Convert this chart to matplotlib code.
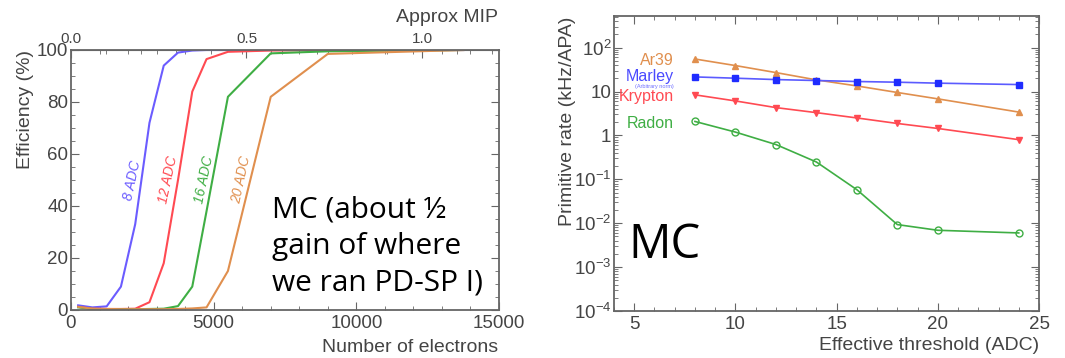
import numpy as np
import matplotlib.pyplot as plt
from matplotlib.ticker import FixedLocator, NullFormatter

plt.rcParams['font.family'] = ['Liberation Sans', 'DejaVu Sans']
plt.rcParams['mathtext.default'] = 'regular'

# Efficiency vs number of electrons, one curve per threshold
electrons = [250, 750, 1250, 1750, 2250, 2750, 3250, 3750, 4250, 4750, 5500, 7000, 9000, 13750]
eff_8 = [1.8, 1.0, 1.4, 9, 33, 72, 94, 99, 99.8, 100, 100, 100, 100, 100]
eff_12 = [1.2, 0.5, 0.4, 0.4, 0.5, 3, 18, 50, 84, 96.5, 99.3, 99.8, 100, 100]
eff_16 = [1.0, 0.4, 0.3, 0.3, 0.3, 0.4, 0.5, 1.5, 9, 38, 82, 98.7, 99.5, 100]
eff_20 = [1.2, 0.5, 0.4, 0.3, 0.3, 0.3, 0.3, 0.4, 0.6, 1.0, 15, 82, 98.5, 100]
eff_labels = ['8 ADC', '12 ADC', '16 ADC', '20 ADC']
electrons_per_mip = 12300

# Primitive rates vs threshold
threshold = [8, 10, 12, 14, 16, 18, 20, 24]
rate_ar39 = [55, 39, 27, 18.4, 13.4, 9.5, 6.8, 3.4]
rate_marley = [21.5, 20.1, 18.7, 17.8, 16.9, 16.3, 15.5, 14.4]
rate_krypton = [8.4, 6.1, 4.3, 3.3, 2.5, 1.87, 1.44, 0.80]
rate_radon = [2.08, 1.19, 0.62, 0.248, 0.058, 0.0093, 0.0069, 0.0060]

c_blue = '#6b5cff'
c_red = '#ff4a52'
c_green = '#3fae44'
c_orange = '#e08f4e'
frame = '#666666'
tickc = '#444444'

W, H = 1065, 358
fig = plt.figure(figsize=(W / 100, H / 100), dpi=100)

def style(ax):
    for s in ax.spines.values():
        s.set_color(frame)
        s.set_linewidth(1.3)
    ax.tick_params(which='both', direction='in', colors=frame, labelcolor=tickc,
                   labelsize=13.5, top=True, right=True)
    ax.tick_params(which='major', length=6)
    ax.tick_params(which='minor', length=3)

# ---- left: efficiency
ax1 = fig.add_axes([71/W, 1-310/H, 428/W, 260/H])
curves = [eff_8, eff_12, eff_16, eff_20]
cols = [c_blue, c_red, c_green, c_orange]
for y, c in zip(curves, cols):
    ax1.plot(electrons, y, color=c, lw=1.5)
ax1.set_xlim(0, 15000)
ax1.set_ylim(0, 100)
style(ax1)
ax1.tick_params(top=False)
ax1.set_xticks([0, 5000, 10000, 15000])
ax1.set_yticks([0, 20, 40, 60, 80, 100])
ax1.xaxis.set_minor_locator(FixedLocator(np.arange(0, 15001, 1000)))
ax1.yaxis.set_minor_locator(FixedLocator(np.arange(0, 101, 5)))
ax1.tick_params(axis='y', pad=2)
fig.text(25/W, 1-50/H, 'Efficiency (%)', rotation=90, fontsize=14, color=tickc,
         ha='center', va='top')
fig.text(498/W, 1-347/H, 'Number of electrons', fontsize=14, color=tickc,
         ha='right', va='center')

for lab, xpos, c in zip(eff_labels, [2140, 3400, 4660, 5950], cols):
    ax1.text(xpos, 50, lab, color=c, rotation=78, fontsize=10, style='italic',
             ha='center', va='center')

ax1.text(7050, 24.5, 'MC (about \u00bd\ngain of where\nwe ran PD-SP I)', fontsize=21.5,
         family=['Open Sans', 'DejaVu Sans'], va='center', ha='left', linespacing=1.33)

top = ax1.secondary_xaxis('top', functions=(lambda x: x / electrons_per_mip,
                                            lambda m: m * electrons_per_mip))
top.set_xticks([0.0, 0.5, 1.0])
top.set_xticklabels(['0.0', '0.5', '1.0'])
top.xaxis.set_minor_locator(FixedLocator(np.arange(0, 1.25, 0.1)))
top.tick_params(which='both', direction='in', colors=frame, labelcolor=tickc, labelsize=11, pad=3)
top.tick_params(which='major', length=6)
top.tick_params(which='minor', length=3)
top.spines['top'].set_color(frame)
fig.text(498/W, 1-17/H, 'Approx MIP', fontsize=14, color=tickc, ha='right', va='center')

# ---- right: primitive rates
ax2 = fig.add_axes([614/W, 1-311/H, 425/W, 295/H])
ax2.set_yscale('log')
ax2.plot(threshold, rate_ar39, color=c_orange, lw=1.2, marker='^', ms=4.5, mec=c_orange)
ax2.plot(threshold, rate_marley, color='#5b5bff', lw=1.2, marker='s', ms=5,
         mfc='#1f2cff', mec='#1f2cff')
ax2.plot(threshold, rate_krypton, color=c_red, lw=1.2, marker='v', ms=4.5)
ax2.plot(threshold, rate_radon, color=c_green, lw=1.2, marker='o', ms=5, mfc='none',
         mew=1.0)
ax2.set_xlim(4, 25)
ax2.set_ylim(1e-4, 525)
style(ax2)
ax2.set_xticks([5, 10, 15, 20, 25])
ax2.xaxis.set_minor_locator(FixedLocator(np.arange(4, 25.1, 1)))
ax2.set_yticks([1e-4, 1e-3, 1e-2, 1e-1, 1, 10, 100])
ax2.set_yticklabels(['$10^{-4}$', '$10^{-3}$', '$10^{-2}$', '$10^{-1}$', '1', '10', '$10^{2}$'])
ax2.yaxis.set_minor_locator(FixedLocator(
    [m * 10.0 ** e for e in range(-4, 3) for m in range(2, 10)]))
ax2.yaxis.set_minor_formatter(NullFormatter())
ax2.tick_params(axis='y', pad=2)
fig.text(567/W, 1-17/H, 'Primitive rate (kHz/APA)', rotation=90, fontsize=14, color=tickc,
         ha='center', va='top')
fig.text(1039/W, 1-345/H, 'Effective threshold (ADC)', fontsize=14, color=tickc,
         ha='right', va='center')

ax2.text(6.95, 50, 'Ar39', color=c_orange, fontsize=11.5, ha='right', va='center')
ax2.text(6.95, 21.5, 'Marley', color='#4a4aff', fontsize=11.5, ha='right', va='center')
ax2.text(6.95, 13.0, '(Arbitrary norm)', color='#6f6fff', fontsize=4, ha='right', va='center')
ax2.text(6.95, 7.6, 'Krypton', color=c_red, fontsize=11.5, ha='right', va='center')
ax2.text(6.95, 1.9, 'Radon', color=c_green, fontsize=11.5, ha='right', va='center')

ax2.text(4.7, 0.0031, 'MC', fontsize=34, family=['Open Sans', 'DejaVu Sans'],
         ha='left', va='center')

fig.savefig('out.png', dpi=100)
